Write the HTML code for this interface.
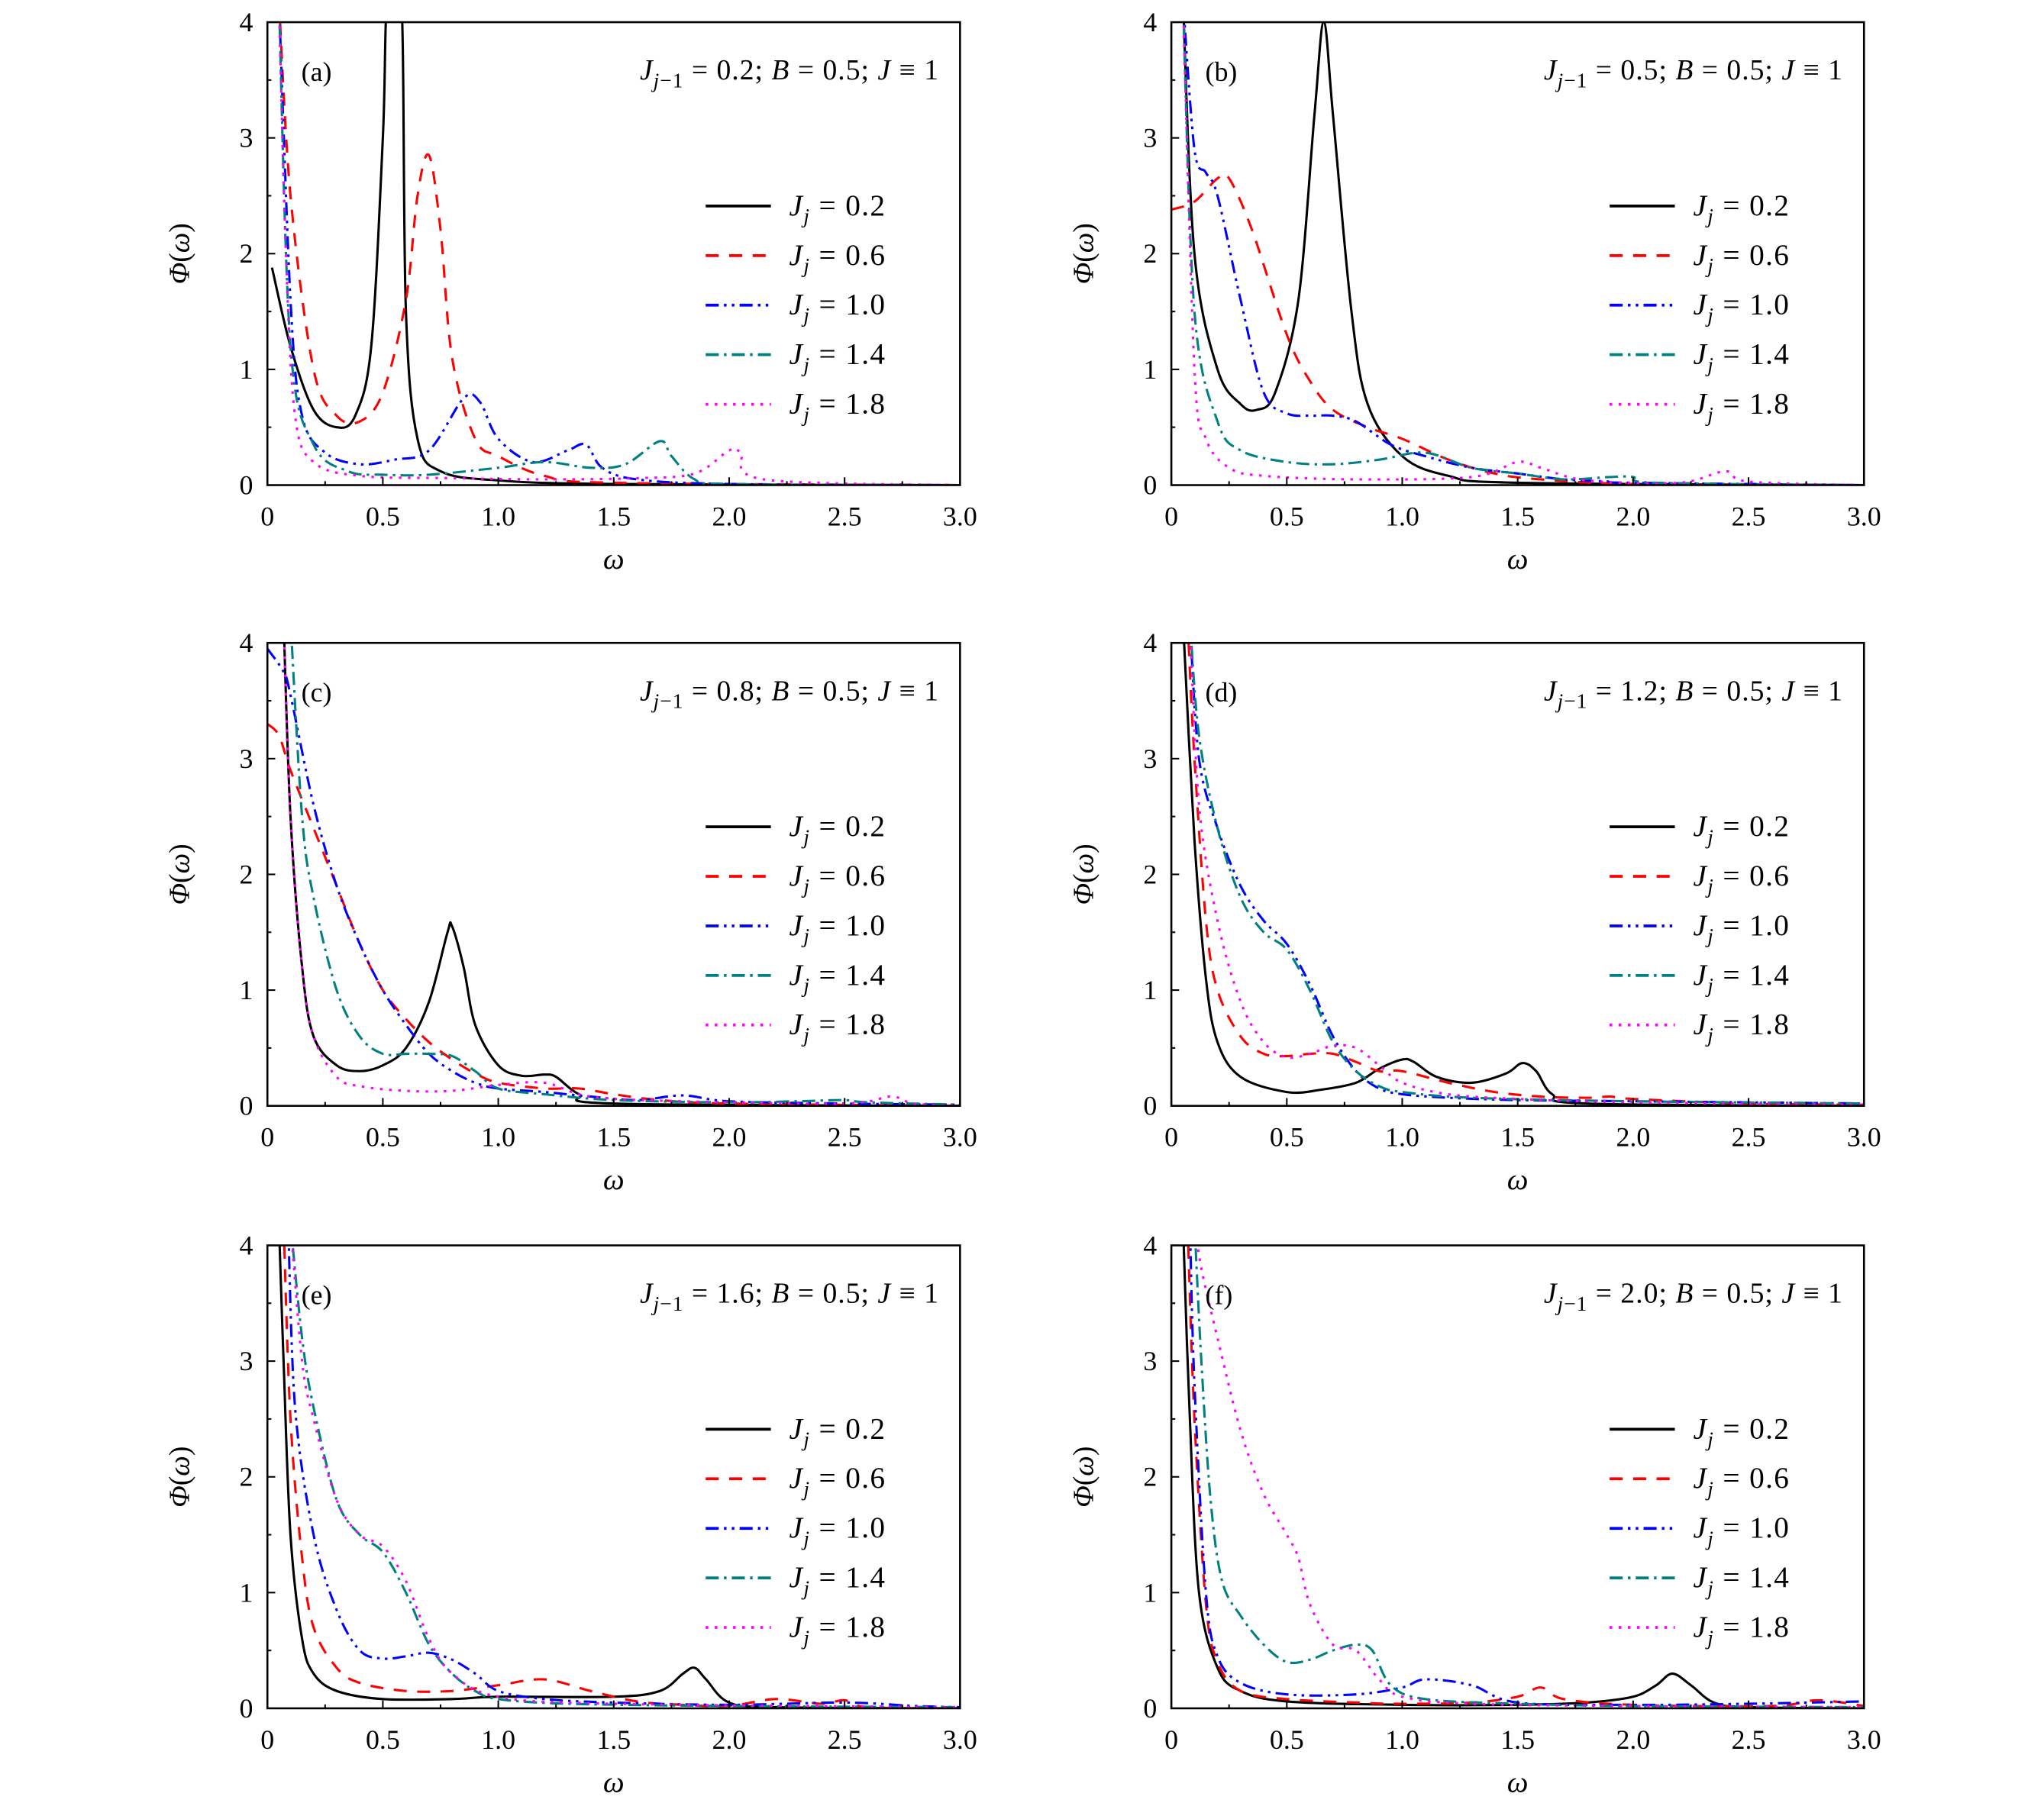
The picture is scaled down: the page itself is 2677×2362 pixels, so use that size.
<!DOCTYPE html>
<html><head><meta charset="utf-8"><style>
html,body{margin:0;padding:0;background:#fff;}
svg{display:block;}
text{font-family:"Liberation Serif",serif;fill:#000;}
</style></head><body>
<svg id="s" width="2677" height="2362" viewBox="0 0 1567 1382.6" preserveAspectRatio="none" xmlns="http://www.w3.org/2000/svg"></svg>
<script>
const S=document.getElementById('s');let h='';
const panels=[
{x:205,y:17,lab:'(a)',jv:'0.2',d:[
[[0.02,1.88],[0.1,1.2],[0.2,0.65],[0.3,0.5],[0.38,0.6],[0.45,1.2],[0.5,3],[0.52,4.2],[0.58,4.2],[0.6,1.5],[0.65,0.4],[0.75,0.12],[1.0,0.04],[1.5,0.01],[3,0]],
[[0.05,4.2],[0.1,2.5],[0.2,1.0],[0.3,0.6],[0.4,0.55],[0.5,0.8],[0.6,1.6],[0.65,2.5],[0.7,2.85],[0.75,2.2],[0.8,1.1],[0.9,0.4],[1.0,0.25],[1.2,0.08],[1.5,0.02],[3,0]],
[[0.05,4.2],[0.1,1.6],[0.15,0.6],[0.25,0.28],[0.4,0.18],[0.55,0.22],[0.7,0.3],[0.85,0.75],[0.92,0.72],[1.0,0.4],[1.15,0.2],[1.3,0.3],[1.38,0.35],[1.45,0.15],[1.6,0.05],[2,0.01],[3,0]],
[[0.05,4.2],[0.1,1.2],[0.2,0.35],[0.35,0.12],[0.5,0.09],[0.7,0.09],[1.0,0.15],[1.2,0.2],[1.4,0.15],[1.55,0.18],[1.7,0.38],[1.75,0.25],[1.85,0.05],[2,0.01],[3,0]],
[[0.05,4.2],[0.08,2],[0.12,0.6],[0.2,0.2],[0.4,0.08],[0.8,0.06],[1.2,0.05],[1.6,0.06],[1.85,0.1],[2.0,0.3],[2.05,0.28],[2.15,0.05],[3,0]]]},
{x:898,y:17,lab:'(b)',jv:'0.5',d:[
[[0.05,4.2],[0.1,2.0],[0.2,1.0],[0.3,0.7],[0.37,0.65],[0.45,0.8],[0.55,1.6],[0.62,3.2],[0.66,4.0],[0.7,3.2],[0.78,1.5],[0.85,0.7],[1.0,0.25],[1.2,0.08],[1.5,0.02],[3,0]],
[[0,2.38],[0.1,2.45],[0.2,2.65],[0.25,2.65],[0.35,2.2],[0.5,1.3],[0.6,0.9],[0.7,0.65],[0.85,0.5],[1.0,0.4],[1.2,0.22],[1.4,0.1],[1.6,0.05],[2,0.01],[3,0]],
[[0.05,4.2],[0.1,2.9],[0.15,2.7],[0.2,2.5],[0.3,1.6],[0.4,0.8],[0.5,0.62],[0.6,0.6],[0.7,0.6],[0.8,0.55],[0.95,0.35],[1.1,0.25],[1.3,0.15],[1.5,0.1],[1.7,0.05],[1.9,0.03],[2.0,0.02],[3,0]],
[[0.05,4.2],[0.1,1.5],[0.2,0.55],[0.3,0.3],[0.5,0.2],[0.7,0.18],[0.9,0.22],[1.1,0.28],[1.3,0.15],[1.5,0.1],[1.7,0.05],[1.9,0.07],[2.0,0.07],[2.1,0.02],[3,0]],
[[0.05,4.2],[0.1,1.0],[0.15,0.4],[0.25,0.15],[0.4,0.08],[0.8,0.05],[1.3,0.07],[1.5,0.2],[1.6,0.15],[1.8,0.04],[2.2,0.02],[2.4,0.12],[2.5,0.03],[3,0]]]},
{x:205,y:493,lab:'(c)',jv:'0.8',d:[
[[0.07,4.2],[0.1,2.5],[0.15,1.2],[0.2,0.6],[0.3,0.35],[0.4,0.3],[0.5,0.35],[0.6,0.5],[0.7,0.9],[0.78,1.5],[0.8,1.55],[0.85,1.2],[0.9,0.7],[1.0,0.35],[1.1,0.26],[1.2,0.27],[1.25,0.25],[1.35,0.1],[1.5,0.02],[3,0]],
[[0,3.3],[0.05,3.2],[0.1,2.9],[0.2,2.4],[0.3,1.9],[0.4,1.4],[0.5,1.0],[0.6,0.75],[0.7,0.55],[0.8,0.4],[0.9,0.28],[1.0,0.2],[1.2,0.15],[1.35,0.15],[1.5,0.1],[1.7,0.05],[2,0.02],[3,0]],
[[0,3.95],[0.07,3.75],[0.1,3.55],[0.2,2.6],[0.3,1.9],[0.4,1.4],[0.5,1.0],[0.6,0.7],[0.7,0.45],[0.8,0.3],[0.9,0.2],[1.0,0.15],[1.2,0.12],[1.4,0.08],[1.6,0.05],[1.8,0.09],[2,0.04],[2.5,0.02],[3,0.01]],
[[0.1,4.2],[0.15,2.5],[0.2,1.8],[0.3,1.0],[0.4,0.6],[0.5,0.45],[0.6,0.45],[0.7,0.45],[0.8,0.43],[0.9,0.3],[1.0,0.15],[1.2,0.1],[1.5,0.05],[2,0.03],[2.3,0.04],[2.5,0.05],[2.6,0.03],[3,0.01]],
[[0.07,4.2],[0.1,2.5],[0.15,1.2],[0.2,0.6],[0.3,0.25],[0.4,0.17],[0.6,0.13],[0.8,0.13],[1.0,0.18],[1.2,0.2],[1.4,0.08],[1.8,0.04],[2.5,0.02],[2.7,0.08],[2.8,0.02],[3,0]]]},
{x:898,y:493,lab:'(d)',jv:'1.2',d:[
[[0.05,4.2],[0.1,2.3],[0.15,1.1],[0.2,0.55],[0.3,0.25],[0.5,0.12],[0.65,0.14],[0.8,0.2],[0.9,0.32],[1.0,0.4],[1.05,0.38],[1.15,0.25],[1.3,0.2],[1.45,0.28],[1.52,0.37],[1.58,0.3],[1.65,0.1],[1.8,0.02],[3,0]],
[[0.07,4.2],[0.1,3.0],[0.15,1.6],[0.2,1.0],[0.3,0.6],[0.4,0.45],[0.5,0.43],[0.6,0.45],[0.7,0.45],[0.8,0.38],[0.9,0.3],[1.0,0.3],[1.2,0.2],[1.4,0.12],[1.6,0.08],[1.8,0.07],[1.9,0.08],[2.0,0.06],[2.5,0.02],[3,0.01]],
[[0.08,4.2],[0.12,3.0],[0.2,2.4],[0.3,1.9],[0.4,1.6],[0.5,1.4],[0.6,1.05],[0.7,0.6],[0.8,0.3],[0.9,0.15],[1.0,0.1],[1.2,0.07],[1.5,0.05],[2,0.04],[3,0.02]],
[[0.08,4.2],[0.12,3.2],[0.2,2.4],[0.3,1.8],[0.4,1.5],[0.5,1.35],[0.6,1.0],[0.7,0.55],[0.8,0.3],[0.9,0.17],[1.0,0.12],[1.3,0.07],[2,0.04],[3,0.02]],
[[0.08,4.2],[0.12,2.6],[0.2,1.6],[0.3,0.9],[0.4,0.55],[0.5,0.42],[0.6,0.45],[0.7,0.52],[0.8,0.5],[0.9,0.35],[1.0,0.2],[1.2,0.1],[1.5,0.06],[2,0.03],[3,0.01]]]},
{x:205,y:955,lab:'(e)',jv:'1.6',d:[
[[0.05,4.2],[0.07,3.0],[0.1,1.5],[0.15,0.6],[0.2,0.3],[0.3,0.15],[0.5,0.08],[0.8,0.08],[1.0,0.1],[1.5,0.1],[1.7,0.15],[1.8,0.3],[1.85,0.35],[1.9,0.25],[2.0,0.05],[2.2,0.01],[3,0]],
[[0.07,4.2],[0.1,2.5],[0.15,1.3],[0.2,0.7],[0.3,0.35],[0.4,0.22],[0.6,0.15],[0.8,0.15],[1.0,0.2],[1.2,0.25],[1.4,0.15],[1.6,0.06],[1.8,0.03],[2.0,0.02],[2.2,0.08],[2.4,0.04],[2.5,0.07],[2.6,0.01],[3,0]],
[[0.09,4.2],[0.12,2.6],[0.2,1.5],[0.3,0.85],[0.4,0.5],[0.5,0.43],[0.6,0.45],[0.7,0.48],[0.8,0.42],[0.9,0.3],[1.0,0.15],[1.2,0.08],[1.5,0.05],[2,0.03],[2.5,0.05],[2.8,0.02],[3,0.01]],
[[0.1,4.2],[0.15,3.2],[0.2,2.6],[0.3,1.8],[0.4,1.5],[0.5,1.35],[0.6,1.0],[0.7,0.55],[0.8,0.3],[0.9,0.15],[1.0,0.08],[1.3,0.04],[2,0.02],[3,0.01]],
[[0.1,4.2],[0.15,3.0],[0.2,2.5],[0.3,1.8],[0.4,1.5],[0.5,1.4],[0.6,1.1],[0.7,0.6],[0.8,0.3],[1.0,0.1],[1.5,0.04],[3,0.01]]]},
{x:898,y:955,lab:'(f)',jv:'2.0',d:[
[[0.05,4.2],[0.08,2.5],[0.12,1.0],[0.2,0.35],[0.3,0.15],[0.5,0.06],[1.0,0.03],[1.5,0.03],[1.8,0.05],[2.0,0.1],[2.1,0.2],[2.17,0.3],[2.25,0.2],[2.35,0.05],[2.5,0.01],[3,0]],
[[0.07,4.2],[0.1,2.5],[0.15,0.9],[0.2,0.4],[0.3,0.15],[0.5,0.08],[0.8,0.05],[1.0,0.04],[1.3,0.05],[1.5,0.1],[1.6,0.18],[1.7,0.08],[2.0,0.03],[2.6,0.02],[2.8,0.07],[3,0.02]],
[[0.08,4.2],[0.1,2.8],[0.15,1.0],[0.2,0.45],[0.3,0.22],[0.5,0.12],[0.8,0.12],[1.0,0.18],[1.1,0.25],[1.3,0.2],[1.5,0.05],[2,0.03],[2.5,0.04],[3,0.06]],
[[0.1,4.2],[0.13,3.0],[0.17,1.8],[0.22,1.1],[0.3,0.8],[0.4,0.55],[0.5,0.4],[0.6,0.42],[0.7,0.5],[0.8,0.55],[0.87,0.5],[0.95,0.2],[1.1,0.08],[1.5,0.04],[2,0.02],[3,0.01]],
[[0.1,4.2],[0.13,3.8],[0.2,3.2],[0.3,2.4],[0.4,1.85],[0.5,1.5],[0.55,1.3],[0.6,0.9],[0.7,0.55],[0.8,0.5],[0.9,0.25],[1.0,0.1],[1.3,0.04],[2,0.02],[3,0.01]]]}
];
const W=531,H=355;
const sty=[['#000',''],['#f00','10,8'],['#00f','10,4,2,4,2,4'],['#008080','10,4,2,4'],['#f0f','2,5']];
const jj=['0.2','0.6','1.0','1.4','1.8'];
function smooth(P){let d='M'+P[0][0].toFixed(1)+','+P[0][1].toFixed(1);
 for(let i=0;i<P.length-1;i++){const p0=P[i-1]||P[i],p1=P[i],p2=P[i+1],p3=P[i+2]||p2;
  const c1=[p1[0]+(p2[0]-p0[0])/6,p1[1]+(p2[1]-p0[1])/6],c2=[p2[0]-(p3[0]-p1[0])/6,p2[1]-(p3[1]-p1[1])/6];
  d+=`C${c1[0].toFixed(1)},${c1[1].toFixed(1)} ${c2[0].toFixed(1)},${c2[1].toFixed(1)} ${p2[0].toFixed(1)},${p2[1].toFixed(1)}`;}
 return d;}
panels.forEach((p,i)=>{
 const X=w=>p.x+w/3*W, Y=v=>p.y+H-v/4*H;
 h+=`<clipPath id="c${i}"><rect x="${p.x}" y="${p.y}" width="${W}" height="${H}"/></clipPath>`;
 h+=`<g clip-path="url(#c${i})">`;
 p.d.forEach((pts,k)=>{
  const s=sty[k];
  h+=`<path fill="none" stroke="${s[0]}" stroke-width="1.8" stroke-linejoin="round" ${s[1]?`stroke-dasharray="${s[1]}"`:''} d="${smooth(pts.map(q=>[X(q[0]),Y(q[1])]))}"/>`;
 });
 h+='</g>';
 h+=`<rect x="${p.x}" y="${p.y}" width="${W}" height="${H}" fill="none" stroke="#000" stroke-width="1.5"/>`;
 for(let t=0;t<=12;t++){const x=X(t*0.25),L=t%2?3:6;h+=`<line x1="${x}" y1="${p.y+H}" x2="${x}" y2="${p.y+H-L}" stroke="#000" stroke-width="1.2"/>`;
  if(t%2==0)h+=`<text x="${x}" y="${p.y+H+31}" font-size="21" text-anchor="middle">${t==0?'0':(t*0.25).toFixed(1)}</text>`;}
 for(let t=0;t<=8;t++){const y=Y(t*0.5),L=t%2?3:6;h+=`<line x1="${p.x}" y1="${y}" x2="${p.x+L}" y2="${y}" stroke="#000" stroke-width="1.2"/>`;
  if(t%2==0)h+=`<text x="${p.x-11}" y="${y+7}" font-size="21" text-anchor="end">${t/2}</text>`;}
 h+=`<text x="${p.x+W/2}" y="${p.y+H+64}" font-size="23" font-style="italic" text-anchor="middle">ω</text>`;
 h+=`<text transform="translate(${p.x-60},${p.y+H/2}) rotate(-90)" font-size="22" text-anchor="middle"><tspan font-style="italic">Φ</tspan>(<tspan font-style="italic">ω</tspan>)</text>`;
 h+=`<text x="${p.x+26}" y="${p.y+45}" font-size="21">${p.lab}</text>`;
 h+=`<text x="${p.x+W-16}" y="${p.y+44}" font-size="22" text-anchor="end" letter-spacing="0.6"><tspan font-style="italic">J</tspan><tspan font-size="16" dy="6" font-style="italic">j</tspan><tspan font-size="16">−1</tspan><tspan dy="-6"> = ${p.jv};  </tspan><tspan font-style="italic">B</tspan> = 0.5;  <tspan font-style="italic">J</tspan> ≡ 1</text>`;
 for(let k=0;k<5;k++){const y=p.y+141+k*38,s=sty[k];
  h+=`<line x1="${p.x+336}" y1="${y}" x2="${p.x+386}" y2="${y}" stroke="${s[0]}" stroke-width="2.2" ${s[1]?`stroke-dasharray="${s[1]}"`:''}/>`;
  h+=`<text x="${p.x+400}" y="${y+7}" font-size="23" letter-spacing="0.8"><tspan font-style="italic">J</tspan><tspan font-size="16" dy="6" font-style="italic">j</tspan><tspan dy="-6"> = ${jj[k]}</tspan></text>`;}
});
S.innerHTML=h;
</script>
</body></html>
